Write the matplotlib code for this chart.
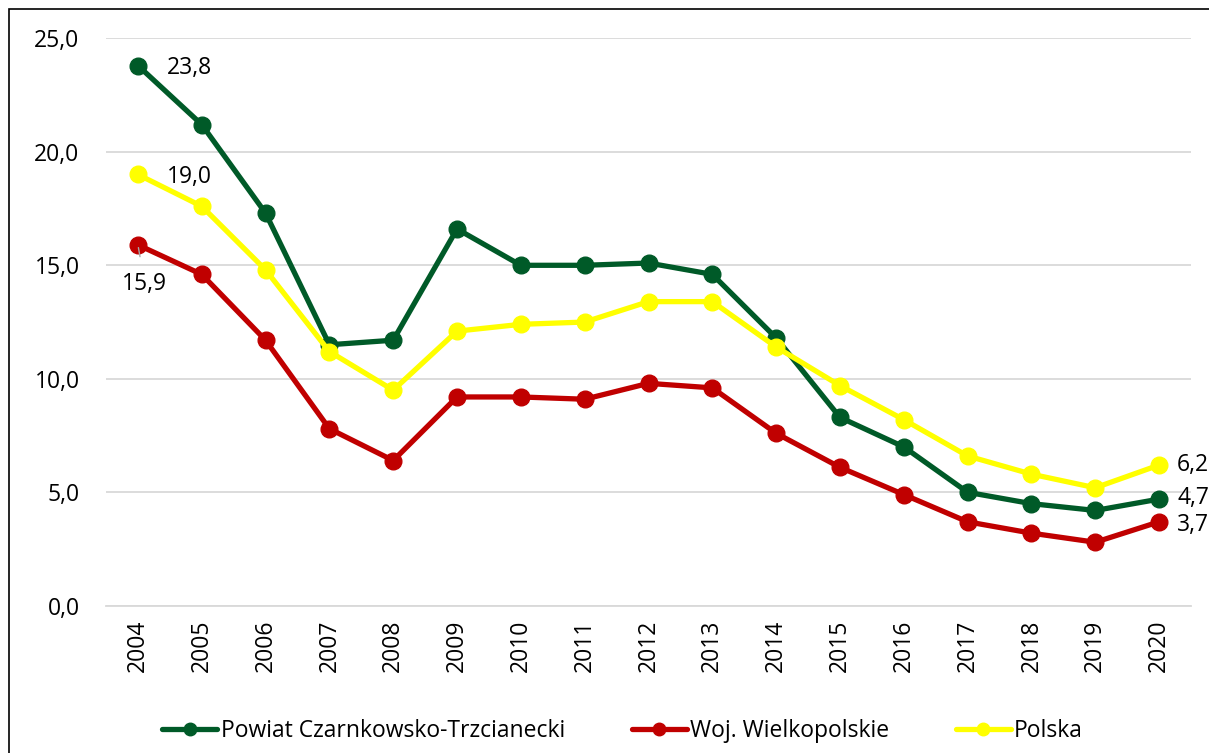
import matplotlib
matplotlib.use("Agg")
import matplotlib.pyplot as plt
from matplotlib.patches import Rectangle

years = [str(y) for y in range(2004, 2021)]
powiat = [23.8, 21.2, 17.3, 11.5, 11.7, 16.6, 15.0, 15.0, 15.1, 14.6, 11.8, 8.3, 7.0, 5.0, 4.5, 4.2, 4.7]
woj = [15.9, 14.6, 11.7, 7.8, 6.4, 9.2, 9.2, 9.1, 9.8, 9.6, 7.6, 6.1, 4.9, 3.7, 3.2, 2.8, 3.7]
polska = [19.0, 17.6, 14.8, 11.2, 9.5, 12.1, 12.4, 12.5, 13.4, 13.4, 11.4, 9.7, 8.2, 6.6, 5.8, 5.2, 6.2]
names = ["Powiat Czarnkowsko-Trzcianecki", "Woj. Wielkopolskie", "Polska"]
colors = ["#005A28", "#C00000", "#FFFF00"]
yticks = [0, 5, 10, 15, 20, 25]
ytick_labels = ["0,0", "5,0", "10,0", "15,0", "20,0", "25,0"]

plt.rcParams['font.family'] = ['Open Sans', 'DejaVu Sans']
fig = plt.figure(figsize=(12.09, 7.53), dpi=100)
ax = fig.add_axes([106/1209, 1-605.8/753, (1191-106)/1209, (605.8-38.3)/753])

x = list(range(len(years)))
for vals, name, c in zip([powiat, woj, polska], names, colors):
    ax.plot(x, vals, color=c, lw=3.8, marker='o', ms=12, label=name, solid_capstyle='round', clip_on=False)

fs = 16.5
ax.set_xlim(-0.5, len(years)-0.5)
ax.set_ylim(0, 25)
ax.set_yticks(yticks)
ax.set_yticklabels(ytick_labels, fontsize=fs)
ax.set_xticks(x)
ax.set_xticklabels(years, rotation=90, fontsize=fs)
ax.tick_params(axis='x', length=0, pad=10)
ax.tick_params(axis='y', length=0, pad=19)
ax.grid(axis='y', color='#D9D9D9', lw=1.3)
ax.set_axisbelow(True)
for s in ['top', 'right', 'left']:
    ax.spines[s].set_visible(False)
ax.spines['bottom'].set_color('#D9D9D9')
ax.spines['bottom'].set_linewidth(1.3)

ax.annotate("23,8", (0, powiat[0]), xytext=(21, -2), textcoords='offset points', fontsize=fs, va='center', ha='left')
ax.annotate("19,0", (0, polska[0]), xytext=(21, -2), textcoords='offset points', fontsize=fs, va='center', ha='left')
ax.annotate("15,9", (0, woj[0]), xytext=(5, -28), textcoords='offset points', fontsize=fs, va='center', ha='center',
            arrowprops=dict(arrowstyle='-', color='#A6A6A6', lw=1, shrinkA=9, shrinkB=2))
ax.annotate("6,2", (16, polska[-1]), xytext=(13, 0), textcoords='offset points', fontsize=fs, va='center', ha='left', annotation_clip=False)
ax.annotate("4,7", (16, powiat[-1]), xytext=(13, 1), textcoords='offset points', fontsize=fs, va='center', ha='left', annotation_clip=False)
ax.annotate("3,7", (16, woj[-1]), xytext=(13, -2), textcoords='offset points', fontsize=fs, va='center', ha='left', annotation_clip=False)

leg = fig.legend(loc='center', bbox_to_anchor=(0.515, 1-731/753), ncol=3, frameon=False, fontsize=fs,
                 handlelength=2.4, columnspacing=2.9, handletextpad=0.15, markerscale=0.75)

fig.patches.append(Rectangle((9/1209, -0.1), 1.2, 1-9/753+0.1, transform=fig.transFigure,
                             fill=False, edgecolor='black', lw=1.2))

fig.savefig("out.png", dpi=100)
